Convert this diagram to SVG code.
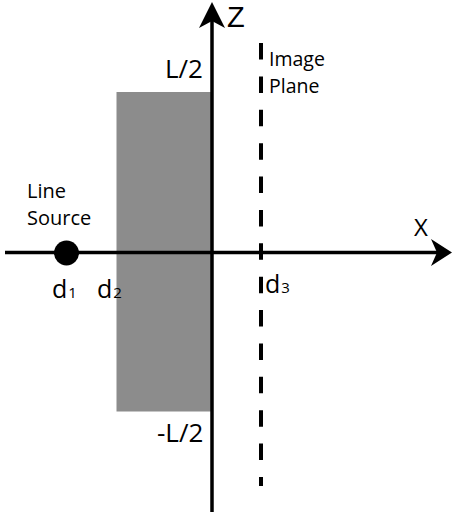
<svg xmlns="http://www.w3.org/2000/svg" width="453" height="516" viewBox="0 0 453 516">
<style>
text{font-family:"Open Sans","Noto Sans","Liberation Sans",sans-serif;fill:#000}
.ax{stroke:#000;stroke-width:3.5;fill:none}
.dash{stroke:#000;stroke-width:4;fill:none;stroke-dasharray:16.5 16.88}
.d{font-size:25px}
.sub{font-size:15px}
</style>
<rect width="453" height="516" fill="#fff"/>
<g id="slab"><rect x="116.5" y="92" width="95.5" height="319.5" fill="#8c8c8c"/></g>
<g id="connectors">
<line class="ax" x1="5" y1="252.5" x2="440" y2="252.5"/>
<path d="M452,252.5 L431,239 L437,252.5 L431,266 Z" fill="#000"/>
<line class="ax" x1="212" y1="18" x2="212" y2="512"/>
<path d="M212,2 L199,28 L212,21 L225,28 Z" fill="#000"/>
<line class="dash" x1="261" y1="43" x2="261" y2="486"/>
</g>
<g id="source"><circle cx="66.5" cy="253" r="12.5" fill="#000"/></g>
<g id="labels">
<text x="227" y="27" font-size="29" style="font-family:'Liberation Sans',Arial,sans-serif">Z</text>
<text x="165" y="78" font-size="26">L/2</text>
<text x="157" y="442" font-size="26">-L/2</text>
<text x="269" y="66" font-size="19.5">Image</text>
<text x="269" y="93" font-size="19.5">Plane</text>
<text x="27" y="198" font-size="20">Line</text>
<text x="27" y="225" font-size="20">Source</text>
<text x="414" y="236" font-size="24">X</text>
<text class="d" x="52" y="298">d<tspan class="sub" dx="1">1</tspan></text>
<text class="d" x="97" y="298">d<tspan class="sub" dx="1">2</tspan></text>
<text class="d" x="265" y="293">d<tspan class="sub" dx="1">3</tspan></text>
</g>
</svg>
